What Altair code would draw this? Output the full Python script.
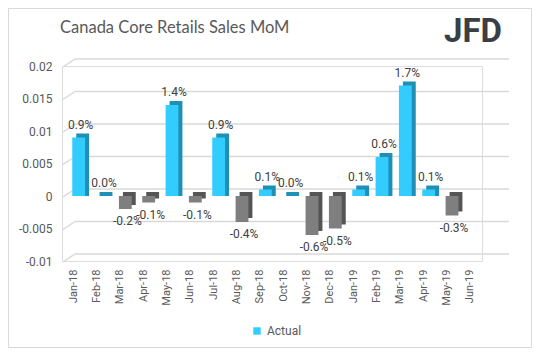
import altair as alt
import pandas as pd

months = ["Jan-18", "Feb-18", "Mar-18", "Apr-18", "May-18", "Jun-18", "Jul-18", "Aug-18", "Sep-18",
          "Oct-18", "Nov-18", "Dec-18", "Jan-19", "Feb-19", "Mar-19", "Apr-19", "May-19", "Jun-19"]
values = [0.009, 0.0, -0.002, -0.001, 0.014, -0.001, 0.009, -0.004, 0.001,
          0.0, -0.006, -0.005, 0.001, 0.006, 0.017, 0.001, -0.003, None]
labels = ["0.9%", "0.0%", "-0.2%", "-0.1%", "1.4%", "-0.1%", "0.9%", "-0.4%", "0.1%",
          "0.0%", "-0.6%", "-0.5%", "0.1%", "0.6%", "1.7%", "0.1%", "-0.3%", ""]
y_ticks = [-0.01, -0.005, 0, 0.005, 0.01, 0.015, 0.02]
series_name = "Actual"
title_text = "Canada Core Retails Sales MoM"
logo_text = "JFD"

df = pd.DataFrame({"m": months, "v": values, "lab": labels, "s": series_name})
grid_df = pd.DataFrame({"v": y_ticks})

FONT = "Roboto"
TXT = "#595959"

xenc = alt.X("m:N", sort=months, scale=alt.Scale(paddingInner=0.45, paddingOuter=0.225),
             axis=alt.Axis(title=None, labelAngle=-90, labelFontSize=11, labelColor=TXT,
                           labelFont=FONT, ticks=False, domain=False, labelPadding=8))
yscale = alt.Scale(domain=[-0.01, 0.02], nice=False)
yaxis = alt.Axis(title=None, values=y_ticks, labelExpr="'' + datum.value",
                 labelFontSize=12, labelColor=TXT, labelFont=FONT, ticks=False,
                 domain=False, grid=False, labelPadding=10)
yenc = alt.Y("v:Q", scale=yscale, axis=yaxis)

base = alt.Chart(df)

# 3D-style gridlines (back wall + slanted floor edge)
grid_back = alt.Chart(grid_df).mark_rule(color="#d9d9d9", strokeWidth=1.5, yOffset=-7, y2Offset=-7).encode(
    x=alt.value(13), x2=alt.value(447), y=yenc, y2="v:Q")
grid_slant = alt.Chart(grid_df).mark_rule(color="#d9d9d9", strokeWidth=1.5, yOffset=1, y2Offset=-7).encode(
    x=alt.value(1), x2=alt.value(13), y=yenc, y2="v:Q")

shadow_pos = base.transform_filter("datum.v >= 0").mark_bar(
    xOffset=9, x2Offset=9, yOffset=-4, y2Offset=0).encode(
    x=xenc, y=yenc, y2=alt.datum(0), color=alt.value("#1f8fb5"))
shadow_neg = base.transform_filter("datum.v < 0").mark_bar(
    xOffset=9, x2Offset=9, yOffset=-4, y2Offset=-4).encode(
    x=xenc, y=yenc, y2=alt.datum(0), color=alt.value("#555555"))

front = base.transform_filter("isValid(datum.v)").mark_bar(xOffset=5, x2Offset=5).encode(
    x=xenc, y=yenc, y2=alt.datum(0),
    color=alt.condition("datum.v < 0", alt.value("#7f7f7f"),
                        alt.Color("s:N", scale=alt.Scale(domain=[series_name], range=["#33ccff"]),
                                  legend=alt.Legend(title=None, orient="none", legendX=189, legendY=259,
                                                    symbolType="square", symbolSize=55,
                                                    symbolStrokeWidth=0,
                                                    labelFontSize=12, labelColor=TXT, labelFont=FONT))))

lab_pos = base.transform_filter("isValid(datum.v) && datum.v >= 0").mark_text(
    baseline="bottom", dy=-6, dx=7, fontSize=12, color="#404040", font=FONT).encode(
    x=xenc, y=yenc, text="lab:N")
lab_neg = base.transform_filter("isValid(datum.v) && datum.v < 0").mark_text(
    baseline="top", dy=7, dx=7, fontSize=12, color="#404040", font=FONT).encode(
    x=xenc, y=yenc, text="lab:N")

title = alt.Chart(pd.DataFrame({"t": [title_text]})).mark_text(
    align="left", baseline="alphabetic", fontSize=16.5, font="Lato", color=TXT).encode(
    x=alt.value(-2), y=alt.value(-33), text="t:N")
logo = alt.Chart(pd.DataFrame({"t": [logo_text]})).mark_text(
    align="left", baseline="alphabetic", fontSize=33, font=FONT, fontWeight="bold", color="#3b3f45").encode(
    x=alt.value(382), y=alt.value(-24), text="t:N")
border = alt.Chart(pd.DataFrame({"t": [1]})).mark_rect(fill=None, stroke="#d9d9d9", strokeWidth=1).encode(
    x=alt.value(-53.5), x2=alt.value(469.5), y=alt.value(-57.5), y2=alt.value(281.5))

chart = alt.layer(border, grid_slant, grid_back, shadow_pos, shadow_neg, front, lab_pos, lab_neg, title, logo).properties(
    width=420, height=195,
    autosize=alt.AutoSizeParams(type="none"),
    padding={"left": 54, "top": 58, "right": 50, "bottom": 87},
).configure_view(stroke=None).configure(background="white")

chart.save("out.html", embed_options={"renderer": "svg", "actions": False})
